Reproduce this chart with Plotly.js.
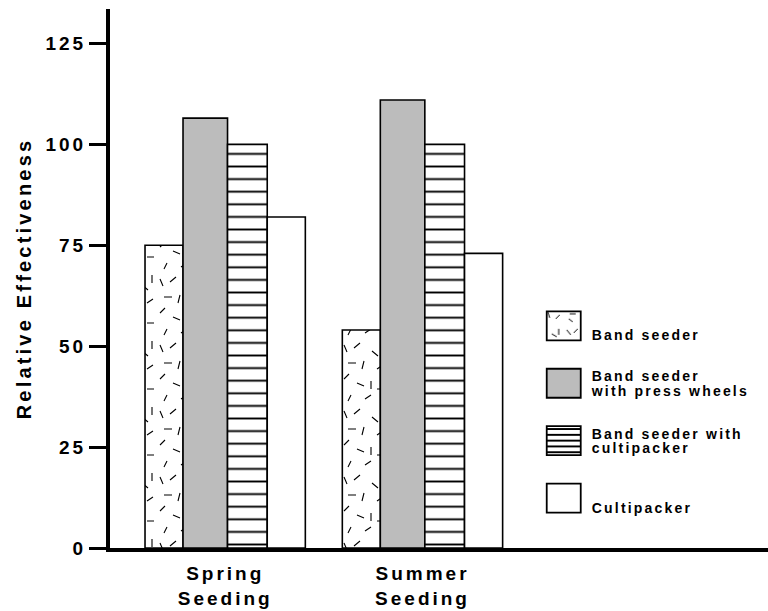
<!DOCTYPE html>
<html>
<head>
<meta charset="utf-8">
<script src="https://cdn.plot.ly/plotly-3.0.1.min.js"></script>
<style>
  html, body { margin: 0; padding: 0; background: #fff; }
  .xtick text { letter-spacing: 3px; }
  .ytick text { letter-spacing: 3px; }
  text.ytitle { letter-spacing: 3.2px; }
  text.legendtext { letter-spacing: 2.2px; }
</style>
</head>
<body>
<div id="chart" style="width:768px;height:611px;"></div>
<script>
// ---- data ----
const categories = ['Spring<br>Seeding', 'Summer<br>Seeding'];
const seriesNames = ['\u00a0<br>Band seeder', 'Band seeder<br>with press wheels', 'Band seeder with<br>cultipacker', '\u00a0<br>Cultipacker'];
const bandSeeder = [75, 54];
const pressWheels = [106.5, 111];
const bandCultipacker = [100, 100];
const cultipacker = [82, 73];
const yTickVals = [0, 25, 50, 75, 100, 125];
const yTickText = ['0', '25', '50', '75', '100', '125'];

const lineStyle = { color: '#000', width: 1.6 };

const traces = [
  {
    type: 'bar', name: seriesNames[0], x: categories, y: bandSeeder,
    width: 0.193, offset: -0.4065, legendgroup: 'g1',
    marker: { color: '#fff', line: lineStyle,
      pattern: { shape: '/', fgcolor: '#000', bgcolor: '#fff', size: 20, solidity: 0.05 } }
  },
  {
    type: 'bar', name: seriesNames[1], x: categories, y: pressWheels,
    width: 0.2256, offset: -0.2139, legendgroup: 'g2',
    marker: { color: '#bcbcbc', line: lineStyle }
  },
  {
    type: 'bar', name: seriesNames[2], x: categories, y: bandCultipacker,
    width: 0.2012, offset: 0.0117, legendgroup: 'g3',
    marker: { color: '#fff', line: lineStyle,
      pattern: { shape: '-', fgcolor: '#000', bgcolor: '#fff', size: 12.6, solidity: 0.15 } }
  },
  {
    type: 'bar', name: seriesNames[3], x: categories, y: cultipacker,
    width: 0.1931, offset: 0.2129, legendgroup: 'g4',
    marker: { color: '#fff', line: lineStyle }
  }
];

const FONT = 'Liberation Sans, Arial, Helvetica, sans-serif';

const layout = {
  width: 768, height: 611,
  margin: { l: 110, r: 0, t: 9, b: 63, pad: 0 },
  paper_bgcolor: '#fff', plot_bgcolor: '#fff',
  barmode: 'overlay',
  showlegend: true,
  font: { family: FONT, color: '#000' },
  xaxis: {
    type: 'category', range: [-0.584, 2.751],
    showline: true, linewidth: 4, linecolor: '#000',
    ticks: '', showgrid: false, zeroline: false,
    tickfont: { family: FONT, size: 19, weight: 'bold', color: '#000' },
    ticklabelstandoff: 5
  },
  yaxis: {
    range: [0, 133.55],
    tickmode: 'array', tickvals: yTickVals, ticktext: yTickText,
    ticks: 'outside', ticklen: 17, tickwidth: 3, tickcolor: '#000',
    showline: true, linewidth: 4, linecolor: '#000',
    showgrid: false, zeroline: false,
    tickfont: { family: FONT, size: 19, weight: 'bold', color: '#000' },
    ticklabelstandoff: -1,
    title: { text: 'Relative Effectiveness', font: { family: FONT, size: 20, weight: 'bold', color: '#000' }, standoff: 9 }
  },
  legend: {
    x: 0.647, xanchor: 'left', y: 0.458, yanchor: 'top',
    traceorder: 'grouped', tracegroupgap: 18, itemwidth: 46,
    font: { family: FONT, size: 14, weight: 'bold', color: '#000' },
    bgcolor: 'rgba(0,0,0,0)', borderwidth: 0, valign: 'middle'
  }
};

const NS = 'http://www.w3.org/2000/svg';
function patId(el) {
  const f = (el.style && el.style.fill) || el.getAttribute('fill') || '';
  const m = f.match(/#([^'")\s]+)/);
  return m ? m[1] : null;
}
function rebuild(id, w, h, d, sw) {
  const p = document.getElementById(id);
  if (!p) return;
  p.setAttribute('width', w); p.setAttribute('height', h);
  p.setAttribute('patternUnits', 'userSpaceOnUse');
  p.removeAttribute('patternTransform');
  while (p.firstChild) p.removeChild(p.firstChild);
  const r = document.createElementNS(NS, 'rect');
  r.setAttribute('width', w); r.setAttribute('height', h); r.setAttribute('fill', '#fff');
  p.appendChild(r);
  const pa = document.createElementNS(NS, 'path');
  pa.setAttribute('d', d); pa.setAttribute('stroke', '#000');
  pa.setAttribute('stroke-width', sw); pa.setAttribute('fill', 'none');
  p.appendChild(pa);
}

const dashTile = 'M4,6l3,7 M20,4l-6,5 M32,12l6,5 M42,2v8 M8,24h8 M24,22l-2,8 M37,30l6,-4 M4,40l5,-5 M17,44l7,3 M31,42v8 M44,50h-7 M11,56l-3,6 M25,60l6,-4';
const dashLegend = 'M3,4l4,5 M14,3l-4,4 M22,8l5,3 M29,3v6 M6,17h6 M18,15l2,6 M26,22l4,-4 M9,25l-4,-3';

Plotly.newPlot('chart', traces, layout, { staticPlot: true, displayModeBar: false }).then(function () {
  // bar textures
  const barTraces = document.querySelectorAll('.barlayer .trace');
  if (barTraces[0]) {
    const done = {};
    barTraces[0].querySelectorAll('.point path').forEach(function (p) {
      const id = patId(p);
      if (id && !done[id]) { done[id] = 1; rebuild(id, 46, 66, dashTile, 1.1); }
    });
  }
  // legend swatches and tighter text lines
  const items = document.querySelectorAll('.legend .traces');
  items.forEach(function (it, i) {
    it.querySelectorAll('.legendpoints path').forEach(function (p) {
      p.setAttribute('d', 'M17,14.5H-17V-14.5H17Z');
      p.style.strokeWidth = '1.8px';
      const id = patId(p);
      if (id) {
        if (i === 0) rebuild(id, 34, 29, dashLegend, 1);
        if (i === 2) rebuild(id, 34, 5.8, 'M0,0H34 M0,5.8H34', 1.8);
      }
    });
    const t = it.querySelector('text.legendtext');
    if (t) {
      const lines = t.querySelectorAll('tspan.line');
      lines.forEach(function (ln, k) { if (k > 0) ln.setAttribute('dy', '1.05em'); });
      const single = (i === 0 || i === 3);
      t.setAttribute('transform', 'translate(0,' + (single ? 3.5 : 1.5) + ')');
    }
  });
});
</script>
</body>
</html>
